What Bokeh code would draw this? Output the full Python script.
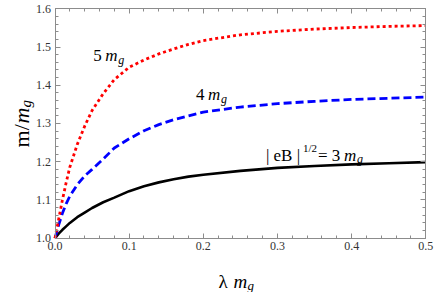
import math
from bokeh.plotting import figure
from bokeh.models import (Label, LinearAxis, SingleIntervalTicker, Range1d,
                          NumeralTickFormatter)
from bokeh.embed import file_html
from bokeh.resources import INLINE

# ---- data ----
lam = [0.0, 0.005, 0.01, 0.015, 0.02, 0.03, 0.04, 0.05, 0.065, 0.08, 0.1,
       0.12, 0.14, 0.16, 0.18, 0.2, 0.25, 0.3, 0.35, 0.4, 0.45, 0.5]
m_5 = [1.0, 1.05, 1.10, 1.145, 1.186, 1.245, 1.293, 1.334, 1.378, 1.415, 1.447,
       1.466, 1.482, 1.495, 1.507, 1.517, 1.532, 1.541, 1.547, 1.551, 1.554, 1.556]
m_4 = [1.0, 1.035, 1.065, 1.09, 1.11, 1.14, 1.163, 1.18, 1.207, 1.236, 1.26,
       1.281, 1.297, 1.31, 1.32, 1.33, 1.343, 1.352, 1.358, 1.363, 1.366, 1.369]
m_3 = [1.0, 1.012, 1.022, 1.031, 1.04, 1.055, 1.067, 1.079, 1.094, 1.106, 1.123,
       1.136, 1.146, 1.154, 1.161, 1.166, 1.176, 1.184, 1.189, 1.193, 1.196, 1.199]

x_bounds = (0.0, 0.5)
y_bounds = (1.0, 1.6)
tick_step = 0.1

SERIF = "'Liberation Serif', 'Times New Roman', serif"
FRAME = "#8c8c8c"
TXT = "#333333"

# the frame covers the whole canvas; the drawn "box" is made of four axes
p = figure(width=436, height=292, output_backend="svg", toolbar_location=None,
           x_range=Range1d(-0.07349, 0.51443), y_range=Range1d(0.85797, 1.62171),
           min_border=0, x_axis_location=None, y_axis_location=None)
p.grid.visible = False
p.outline_line_color = None
p.background_fill_color = "white"
p.border_fill_color = "white"


def make_axis(loc, bounds, show_labels):
    ax = LinearAxis(fixed_location=loc, bounds=bounds,
                    ticker=SingleIntervalTicker(interval=tick_step, num_minor_ticks=5),
                    formatter=NumeralTickFormatter(format="0.0"))
    ax.axis_line_color = FRAME
    ax.major_tick_line_color = FRAME
    ax.minor_tick_line_color = FRAME
    ax.major_tick_in = 5
    ax.major_tick_out = 0
    ax.minor_tick_in = 3
    ax.minor_tick_out = 0
    ax.major_label_text_font = SERIF
    ax.major_label_text_color = TXT
    ax.major_label_text_font_size = "12px"
    ax.major_label_standoff = 4
    if not show_labels:
        ax.major_label_text_font_size = "0px"
        ax.major_label_text_color = None
        ax.major_label_standoff = 0
    return ax


p.add_layout(make_axis(y_bounds[0], x_bounds, True), "below")
p.add_layout(make_axis(x_bounds[0], y_bounds, True), "left")
p.add_layout(make_axis(y_bounds[1], x_bounds, False), "above")
p.add_layout(make_axis(x_bounds[1], y_bounds, False), "right")

p.line(lam, m_3, line_color="black", line_width=2.6)
p.line(lam, m_4, line_color="#0000ff", line_width=2.8, line_dash="8 4")
p.line(lam, m_5, line_color="#ff0000", line_width=2.8, line_dash="3 3")


def lab(x, y, text, size, style="normal", xo=0, yo=0, angle=0):
    p.add_layout(Label(x=x, y=y, text=text, text_font=SERIF,
                       text_font_size=f"{size}px", text_font_style=style,
                       text_color="black", text_align="left",
                       text_baseline="alphabetic", x_offset=xo, y_offset=yo,
                       angle=angle))


# curve labels
lx5, ly5 = 0.0515, 1.477
lab(lx5, ly5, "5", 17)
lab(lx5, ly5, "m", 17, "italic", xo=12)
lab(lx5, ly5, "g", 12, "italic", xo=25, yo=-4)

lab(0.19, 1.3757, "4", 17)
lab(0.19, 1.3757, "m", 17, "italic", xo=12)
lab(0.19, 1.3757, "g", 12, "italic", xo=25, yo=-4)

bx, by = 0.2844, 1.2165
lab(bx, by, "| eB |", 17)
lab(bx, by, "1/2", 11, xo=37, yo=7)
lab(bx, by, "= 3", 17, xo=52)
lab(bx, by, "m", 17, "italic", xo=78)
lab(bx, by, "g", 12, "italic", xo=91, yo=-4)

# axis titles
lab(0.2205, 0.8880, "\u03bb", 19)
lab(0.2205, 0.8880, "m", 19, "italic", xo=15)
lab(0.2205, 0.8880, "g", 13, "italic", xo=29, yo=-4)

ya = math.pi / 2
lab(-0.0452, 1.2373, "m/", 22, angle=ya)
lab(-0.0452, 1.2373, "m", 22, "italic", yo=24, angle=ya)
lab(-0.0452, 1.2373, "g", 15, "italic", xo=5, yo=40, angle=ya)

open("out.html", "w").write(file_html(p, INLINE))
